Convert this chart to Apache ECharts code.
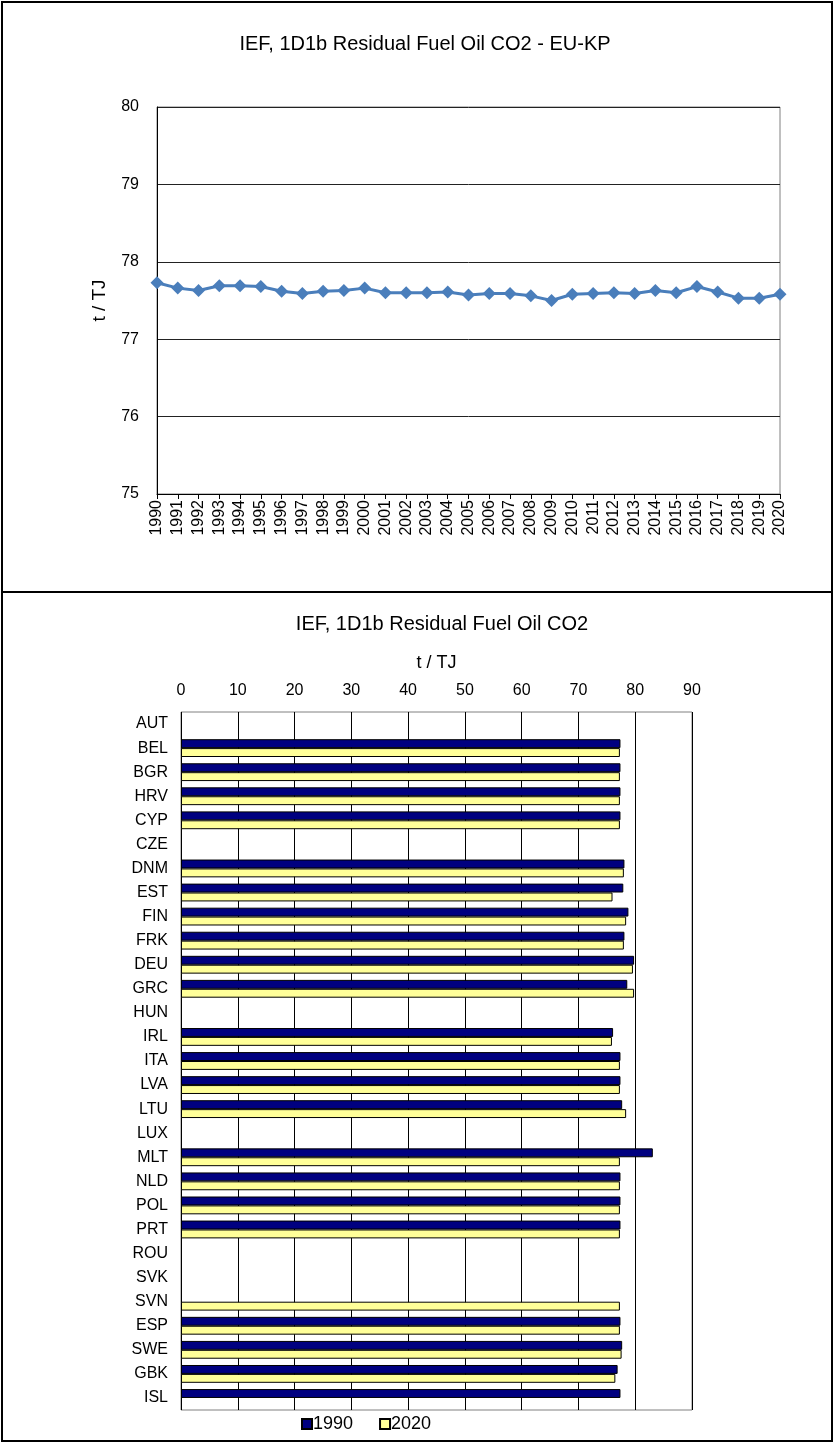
<!DOCTYPE html>
<html>
<head>
<meta charset="utf-8">
<style>
  html, body { margin: 0; padding: 0; background: #fff; }
  #chart { width: 835px; height: 1444px; }
</style>
<script src="https://cdn.jsdelivr.net/npm/echarts@6/dist/echarts.min.js"></script>
</head>
<body>
<div id="chart"></div>
<script>
// Implied emission factor, EU-KP time series (t / TJ)
const years = ['1990','1991','1992','1993','1994','1995','1996','1997','1998','1999',
  '2000','2001','2002','2003','2004','2005','2006','2007','2008','2009',
  '2010','2011','2012','2013','2014','2015','2016','2017','2018','2019','2020'];
const euKpValues = [77.73, 77.66, 77.63, 77.69, 77.69, 77.68, 77.62, 77.59, 77.62, 77.63,
  77.66, 77.60, 77.60, 77.60, 77.61, 77.57, 77.59, 77.59, 77.56, 77.50,
  77.58, 77.59, 77.60, 77.59, 77.63, 77.60, 77.68, 77.61, 77.53, 77.53, 77.58];

// Country comparison, 1990 vs 2020 (t / TJ); null = not reported
const countries = ['AUT','BEL','BGR','HRV','CYP','CZE','DNM','EST','FIN','FRK','DEU','GRC','HUN',
  'IRL','ITA','LVA','LTU','LUX','MLT','NLD','POL','PRT','ROU','SVK','SVN','ESP','SWE','GBK','ISL'];
const values1990 = [null, 77.4, 77.4, 77.4, 77.4, null, 78.1, 77.9, 78.8, 78.1, 79.8, 78.6, null,
  76.1, 77.4, 77.4, 77.7, null, 83.1, 77.4, 77.4, 77.4, null, null, null, 77.4, 77.7, 76.9, 77.4];
const values2020 = [null, 77.3, 77.3, 77.3, 77.3, null, 78.0, 76.0, 78.4, 78.0, 79.6, 79.8, null,
  75.9, 77.3, 77.3, 78.4, null, 77.3, 77.3, 77.3, 77.3, null, null, 77.3, 77.3, 77.6, 76.5, null];

const FONT = "'Liberation Sans', Arial, sans-serif";
const chart = echarts.init(document.getElementById('chart'), null, { renderer: 'canvas' });

chart.setOption({
  animation: false,
  backgroundColor: '#ffffff',
  textStyle: { fontFamily: FONT, color: '#000' },
  graphic: [
    { type: 'rect', shape: { x: 2, y: 2, width: 830, height: 1439 },
      style: { fill: 'none', stroke: '#000', lineWidth: 2 }, silent: true },
    { type: 'line', shape: { x1: 2, y1: 592, x2: 833, y2: 592 },
      style: { stroke: '#000', lineWidth: 2 }, silent: true }
  ],
  title: [
    { text: 'IEF, 1D1b Residual Fuel Oil CO2 - EU-KP', left: 420, top: 29, textAlign: 'center',
      textStyle: { fontFamily: FONT, fontSize: 20, fontWeight: 'normal', color: '#000' } },
    { text: 'IEF, 1D1b Residual Fuel Oil CO2', left: 437, top: 609, textAlign: 'center',
      textStyle: { fontFamily: FONT, fontSize: 20, fontWeight: 'normal', color: '#000' } }
  ],
  legend: {
    top: 1410, left: 296, itemGap: 26, itemWidth: 10, itemHeight: 10,
    icon: 'rect',
    textStyle: { fontFamily: FONT, fontSize: 18, color: '#000', padding: [0, 0, 0, -4] },
    data: ['1990', '2020']
  },
  grid: [
    { left: 157, right: 55, top: 107, height: 387, show: true,
      borderColor: '#808080', borderWidth: 1, backgroundColor: 'transparent' },
    { left: 181, right: 143, top: 712, height: 698, show: true,
      borderColor: '#808080', borderWidth: 1, backgroundColor: 'transparent' }
  ],
  xAxis: [
    { gridIndex: 0, type: 'category', data: years, boundaryGap: false,
      axisLine: { lineStyle: { color: '#000', width: 1 } },
      axisTick: { show: true, inside: false, length: 5, alignWithLabel: true, lineStyle: { color: '#000' } },
      axisLabel: { rotate: 90, interval: 0, fontSize: 16, fontFamily: FONT, color: '#000', margin: 6 },
      splitLine: { show: false } },
    { gridIndex: 1, type: 'value', position: 'top', min: 0, max: 90, interval: 10,
      name: 't / TJ', nameLocation: 'middle', nameGap: 40,
      nameTextStyle: { fontFamily: FONT, fontSize: 18, color: '#000' },
      axisLine: { show: false }, axisTick: { show: false },
      axisLabel: { fontSize: 16, fontFamily: FONT, color: '#000', margin: 13 },
      splitLine: { show: true, lineStyle: { color: '#000', width: 1 } } }
  ],
  yAxis: [
    { gridIndex: 0, type: 'value', min: 75, max: 80, interval: 1,
      name: 't / TJ', nameLocation: 'middle', nameGap: 48,
      nameTextStyle: { fontFamily: FONT, fontSize: 19, color: '#000' },
      axisLine: { show: true, lineStyle: { color: '#000', width: 1 } },
      axisTick: { show: false },
      axisLabel: { fontSize: 16, fontFamily: FONT, color: '#000', margin: 18 },
      splitLine: { show: true, lineStyle: { color: '#222', width: 1 } } },
    { gridIndex: 1, type: 'category', data: countries, inverse: true,
      axisLine: { show: false }, axisTick: { show: false },
      axisLabel: { interval: 0, fontSize: 16, fontFamily: FONT, color: '#000', margin: 13 },
      splitLine: { show: false } }
  ],
  series: [
    { name: 'EU-KP', type: 'line', xAxisIndex: 0, yAxisIndex: 0, data: euKpValues,
      symbol: 'diamond', symbolSize: 13,
      lineStyle: { color: '#4A7EBB', width: 3 },
      itemStyle: { color: '#4A7EBB' } },
    { name: '1990', type: 'bar', xAxisIndex: 1, yAxisIndex: 1, data: values1990,
      barCategoryGap: '26%', barGap: '0%',
      itemStyle: { color: '#000080', borderColor: '#000', borderWidth: 1 } },
    { name: '2020', type: 'bar', xAxisIndex: 1, yAxisIndex: 1, data: values2020,
      barCategoryGap: '26%', barGap: '0%',
      itemStyle: { color: '#FFFF99', borderColor: '#000', borderWidth: 1 } }
  ]
});
</script>
</body>
</html>
